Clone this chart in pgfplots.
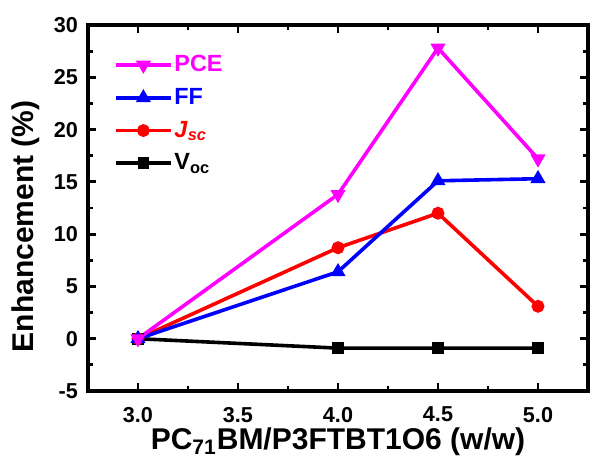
\documentclass[border=0pt]{standalone}
\usepackage{pgfplots}
\pgfplotsset{compat=1.18}
\usepackage{fontspec}
\setmainfont{Liberation Sans}
\definecolor{cMag}{RGB}{255,0,255}
\definecolor{cBlue}{RGB}{0,0,255}
\definecolor{cRed}{RGB}{255,0,0}
\begin{document}
\begin{tikzpicture}
\begin{axis}[name=ax, scale only axis, width=250pt, height=183pt,
  xmin=2.75, xmax=5.25, ymin=-5, ymax=30,
  xtick={3,3.5,4,4.5,5}, xticklabels={3.0,3.5,4.0,4.5,5.0},
  minor xtick={3.25,3.75,4.25,4.75},
  ytick={-5,0,5,10,15,20,25,30},
  minor ytick={-2.5,2.5,7.5,12.5,17.5,22.5,27.5},
  tick align=inside, major tick length=4pt, minor tick length=2.5pt,
  every tick/.style={line width=1.4pt, black},
  axis line style={line width=1.7pt},
  /pgf/number format/assume math mode=true,
  ticklabel style={font=\fontsize{10.8}{12}\selectfont\bfseries},
  xticklabel style={yshift=-4.5pt},
  yticklabel style={xshift=-1.5pt},
  xlabel={PC\textsubscript{71}BM/P3FTBT1O6 (w/w)},
  ylabel={Enhancement (\%)},
  label style={font=\fontsize{15}{17}\selectfont\bfseries},
  xlabel style={at={(axis description cs:0.5,-0.161)}, anchor=base},
  ylabel style={at={(axis description cs:-0.124,0.45)}, anchor=center},
  reverse legend,
  legend style={draw=none, fill=none, at={(axis description cs:0.04,0.94)}, anchor=north west,
    font=\fontsize{11.7}{14}\selectfont\bfseries, row sep=2.8pt,
    nodes={inner xsep=1pt}},
  legend cell align=left,
  legend image code/.code={\draw[mark repeat=2,mark phase=2,#1] plot coordinates {(0pt,0pt) (13.6pt,0pt) (27.2pt,0pt)};},
]
\addplot[black, line width=1.8pt, mark=square*, mark size=2.0pt] coordinates {(3.0,0) (4.0,-0.9) (4.5,-0.9) (5.0,-0.9)};
\addlegendentry{V\textsubscript{oc}}
\addplot[cRed, line width=1.8pt, mark=*, mark size=2.3pt] coordinates {(3.0,0) (4.0,8.7) (4.5,12.0) (5.0,3.1)};
\addlegendentry{\textcolor{cRed}{\textit{J}\textsubscript{\textit{sc}}}}
\addplot[cBlue, line width=1.8pt, mark=triangle*, mark size=2.6pt] coordinates {(3.0,0) (4.0,6.4) (4.5,15.1) (5.0,15.3)};
\addlegendentry{\textcolor{cBlue}{FF}}
\addplot[cMag, line width=1.8pt, mark=triangle*, mark size=2.6pt, mark options={rotate=180}] coordinates {(3.0,0) (4.0,13.8) (4.5,27.8) (5.0,17.2)};
\addlegendentry{\textcolor{cMag}{PCE}}
\end{axis}
\path ([shift={(-44pt,-34pt)}]ax.south west) rectangle ([shift={(1pt,12.5pt)}]ax.north east);
\end{tikzpicture}
\end{document}
